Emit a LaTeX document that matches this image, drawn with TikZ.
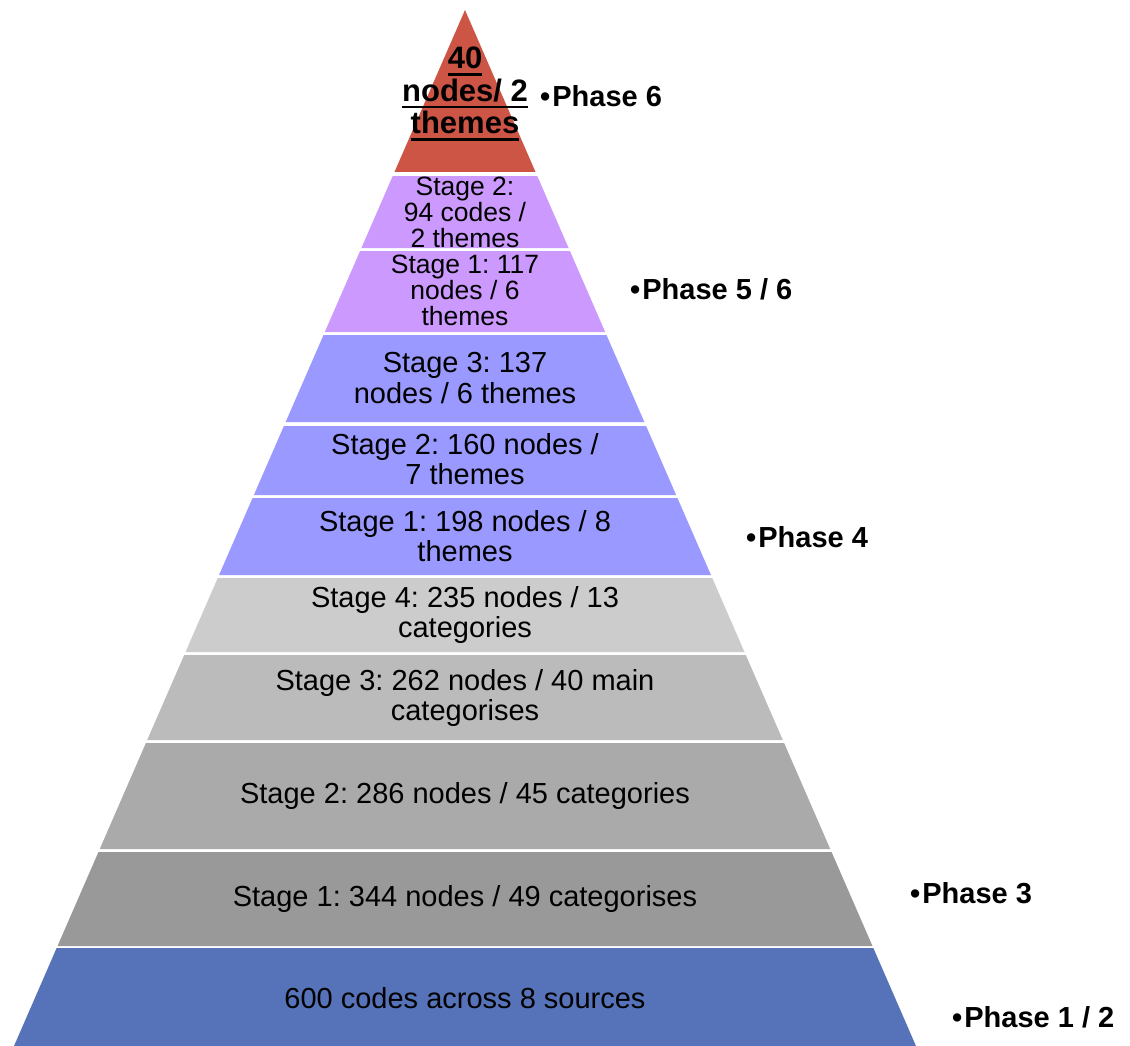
\documentclass[tikz,border=0pt]{standalone}
\usepackage{fontspec}
\setmainfont{Liberation Sans}
\usetikzlibrary{positioning}
\frenchspacing

\definecolor{apexred}{HTML}{CD5546}
\definecolor{lilac}{HTML}{CC99FF}
\definecolor{periwinkle}{HTML}{9999FF}
\definecolor{greyA}{HTML}{CCCCCC}
\definecolor{greyB}{HTML}{BBBBBB}
\definecolor{greyC}{HTML}{AAAAAA}
\definecolor{greyD}{HTML}{999999}
\definecolor{baseblue}{HTML}{5673BA}

% thick underline for the apex label
\newcommand{\ulbold}[1]{\setbox0\hbox{#1}\rlap{\rule[-7pt]{\wd0}{2.5pt}}\box0}

\begin{document}
\begin{tikzpicture}[
    x=1pt, y=-1pt,
    every node/.style={inner sep=0pt, align=center},
    stagetext/.style={font=\fontsize{29}{30.5}\selectfont},
    smalltext/.style={font=\fontsize{26.5}{26}\selectfont},
    toptext/.style={font=\fontsize{31}{32.5}\selectfont\bfseries},
    phase/.style={font=\fontsize{29}{30}\selectfont\bfseries, anchor=west}
]
\useasboundingbox (0, 0) rectangle (1130, 1046);

% ============ PYRAMID BANDS ============
\foreach \yt/\yb/\col in {10/172/apexred, 176/248/lilac, 251/332/lilac,
    335/422/periwinkle, 426/495/periwinkle, 498/575/periwinkle,
    578/652/greyA, 655/740/greyB, 743/849/greyC, 852/946/greyD, 948/1046/baseblue} {
    \fill[\col] ({465-0.43533*(\yt-10)}, \yt) -- ({465+0.43533*(\yt-10)}, \yt)
        -- ({465+0.43533*(\yb-10)}, \yb) -- ({465-0.43533*(\yb-10)}, \yb) -- cycle;
}

% ============ BAND LABELS ============
\node[toptext] (top) at (465, 94) {\ulbold{40}\\\ulbold{nodes/ 2}\\\ulbold{themes}};

\node[smalltext] (lilacTwo) at (465, 212) {Stage 2:\\94 codes /\\2 themes};
\node[smalltext] (lilacOne) at (465, 290) {Stage 1: 117\\nodes / 6\\themes};

\node[stagetext] (periThree) at (465, 378) {Stage 3: 137\\nodes / 6 themes};
\node[stagetext] (periTwo) at (465, 459) {Stage 2: 160 nodes /\\7 themes};
\node[stagetext] (periOne) at (465, 536) {Stage 1: 198 nodes / 8\\themes};

\node[stagetext] (greyFour) at (465, 615) {Stage 4: 235 nodes / 13\\categories};
\node[stagetext] (greyThree) at (465, 698) {Stage 3: 262 nodes / 40 main\\categorises};
\node[stagetext] (greyTwo) at (465, 796) {Stage 2: 286 nodes / 45 categories};
\node[stagetext] (greyOne) at (465, 899) {Stage 1: 344 nodes / 49 categorises};

\node[stagetext] (base) at (465, 998) {600 codes across 8 sources};

% ============ PHASES ============
\node[phase] (phSix) at (540, 96) {•\hspace{2pt}Phase 6};
\node[phase] (phFiveSix) at (630, 289) {•\hspace{2pt}Phase 5 / 6};
\node[phase] (phFour) at (746, 537) {•\hspace{2pt}Phase 4};
\node[phase] (phThree) at (910, 893) {•\hspace{2pt}Phase 3};
\node[phase] (phOneTwo) at (952, 1017) {•\hspace{2pt}Phase 1 / 2};

\end{tikzpicture}
\end{document}
